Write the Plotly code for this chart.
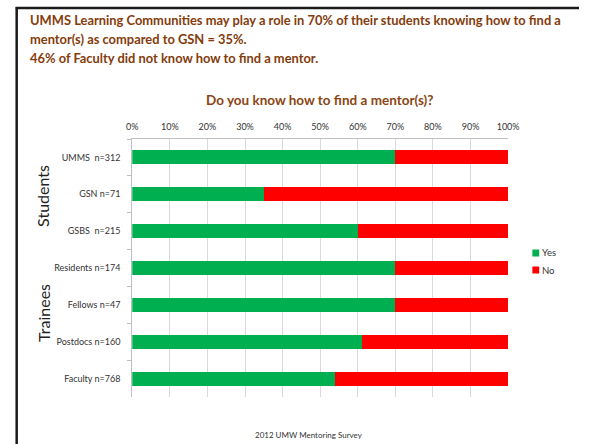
import plotly.graph_objects as go

categories = ["UMMS  n=312", "GSN n=71", "GSBS  n=215", "Residents n=174",
              "Fellows n=47", "Postdocs n=160", "Faculty n=768"]
yes_pct = [70, 35, 60, 70, 70, 61, 54]
no_pct = [100 - v for v in yes_pct]
series_names = ["Yes", "No"]
series_colors = ["#00B050", "#FF0000"]
title_lines = [
    "UMMS Learning Communities may play a role in 70% of their students knowing how to find a",
    "mentor(s) as compared to GSN = 35%.",
    "46% of Faculty did not know how to find a mentor.",
]

W, H = 590, 444
def px(x): return x / W
def py(y): return 1 - y / H

FONT = "Lato"
BROWN = "#843C0C"

fig = go.Figure()
for name, vals, col in zip(series_names, [yes_pct, no_pct], series_colors):
    fig.add_trace(go.Bar(y=categories, x=[v / 100 for v in vals], name=name,
                         orientation="h", showlegend=False,
                         marker=dict(color=col, line=dict(width=0))))

fig.update_layout(
    width=W, height=H, margin=dict(l=0, r=0, t=0, b=0),
    paper_bgcolor="white", plot_bgcolor="white",
    barmode="stack", bargap=0.62,
    font=dict(family=FONT, size=9, color="#333333"),
    xaxis=dict(domain=[px(130), px(517)], range=[0, 1], side="top",
               tickformat=".0%", dtick=0.1, showgrid=True, gridcolor="#D9D9D9",
               gridwidth=1, showline=True, linecolor="#BFBFBF", ticks="",
               ticklabelstandoff=4,
               zeroline=False, tickfont=dict(size=9, color="#333333"), fixedrange=True),
    yaxis=dict(domain=[py(397), py(139)], autorange="reversed", showline=True,
               linecolor="#BFBFBF", ticks="outside", tickson="boundaries",
               ticklen=4, tickcolor="#BFBFBF", showgrid=False,
               ticklabelstandoff=9,
               tickfont=dict(size=9, color="#333333")),
)

annotations = []
for i, line in enumerate(title_lines):
    annotations.append(dict(x=px(23), y=py(20 + 19 * i), xanchor="left", yanchor="middle",
                            align="left", text="<b>" + line + "</b>",
                            font=dict(size=12.9, color=BROWN, family=FONT)))
annotations += [
    dict(x=px(323), y=py(100), xanchor="center", yanchor="middle",
         text="<b>Do you know how to find a mentor(s)?</b>",
         font=dict(size=13.5, color="#8B4513", family=FONT)),
    dict(x=px(38), y=py(196), xanchor="center", yanchor="middle", textangle=-90,
         text="Students", font=dict(size=16, color="#222222", family=FONT)),
    dict(x=px(38), y=py(313), xanchor="center", yanchor="middle", textangle=-90,
         text="Trainees", font=dict(size=16, color="#222222", family=FONT)),
    dict(x=px(312), y=py(435), xanchor="center", yanchor="middle",
         text="2012 UMW Mentoring Survey", font=dict(size=8, color="#333333", family=FONT)),
]
# manual legend
shapes = []
for i, (name, col) in enumerate(zip(series_names, series_colors)):
    yc = 253 + 17 * i
    shapes.append(dict(type="rect", xref="paper", yref="paper",
                       x0=px(542), x1=px(549), y0=py(yc - 3.5), y1=py(yc + 3.5),
                       fillcolor=col, line=dict(width=0)))
    annotations.append(dict(x=px(550), y=py(yc), xanchor="left", yanchor="middle",
                            text=name, font=dict(size=9.5, color="#333333", family=FONT)))
for a in annotations:
    a.update(xref="paper", yref="paper", showarrow=False)

shapes += [
    dict(type="line", xref="paper", yref="paper", x0=px(10), x1=1, y0=py(8), y1=py(8),
         line=dict(color="#1a1a1a", width=2.5)),
    dict(type="line", xref="paper", yref="paper", x0=px(11), x1=px(11), y0=py(7), y1=0,
         line=dict(color="#1a1a1a", width=2.5)),
]
fig.update_layout(annotations=annotations, shapes=shapes)

fig.write_html("out.html")
